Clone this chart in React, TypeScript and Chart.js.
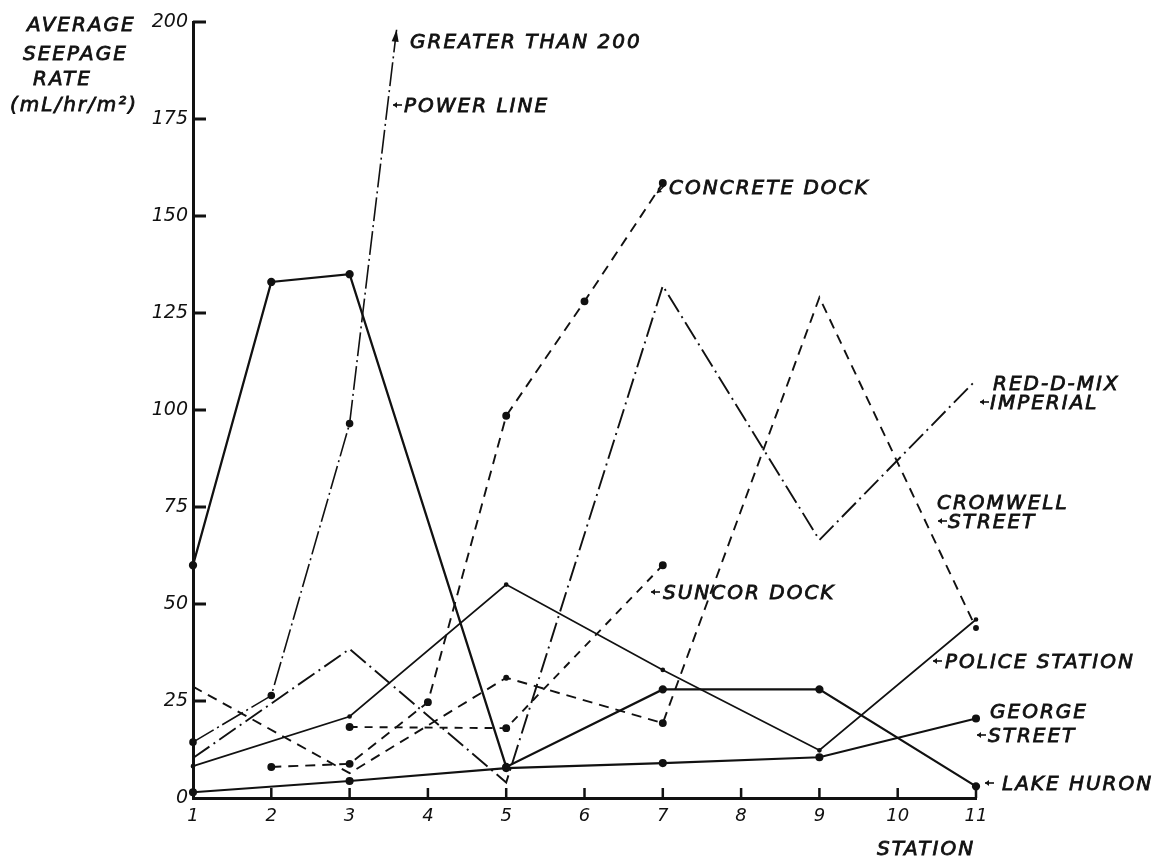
import React, { useEffect, useRef } from "react";
import { Chart, registerables } from "chart.js";

Chart.register(...registerables);

// ---- axis ticks ----
const stationTicks = [1, 2, 3, 4, 5, 6, 7, 8, 9, 10, 11];
const valueTicks = [0, 25, 50, 75, 100, 125, 150, 175, 200];

// ---- series (station, average seepage rate mL/hr/m²) ----
const lakeHuronStations = [1, 2, 3, 5, 7, 9, 11];
const lakeHuronValues = [60, 133, 135, 8, 28, 28, 3];

const policeStations = [1, 3, 5, 7, 9, 11];
const policeValues = [8.2, 21, 55, 33, 12.3, 46];

const georgeStations = [1, 3, 5, 7, 9, 11];
const georgeValues = [1.5, 4.4, 7.7, 9, 10.5, 20.5];

const powerLineStations = [1, 2, 3, 3.6];
const powerLineValues = [14.4, 26.4, 96.5, 198];

const redDMixStations = [1, 3, 5, 7, 9, 11];
const redDMixValues = [10.3, 38.4, 4, 132, 66.5, 107.7];

const concreteStations = [2, 3, 4, 5, 6, 7];
const concreteValues = [8, 8.8, 24.7, 98.5, 128, 158.5];

const cromwellStations = [1, 3, 5, 7, 9, 11];
const cromwellValues = [28.7, 6.4, 31, 19.3, 129, 43.8];

const suncorStations = [3, 5, 7];
const suncorValues = [18.3, 18, 60];

// ---- text annotations (page pixels) ----
const LABEL_FONT = 'italic 20px "DejaVu Sans"';
type Lbl = { t: string; x: number; y: number; arrow?: "left" | "downleft"; ax?: number };
const labels: Lbl[] = [
  { t: "AVERAGE", x: 27, y: 26 },
  { t: "SEEPAGE", x: 23, y: 55 },
  { t: "RATE", x: 33, y: 80 },
  { t: "(mL/hr/m²)", x: 10, y: 106 },
  { t: "GREATER THAN 200", x: 410, y: 43 },
  { t: "POWER LINE", x: 404, y: 107, arrow: "left", ax: 393 },
  { t: "CONCRETE DOCK", x: 669, y: 189, arrow: "downleft", ax: 657 },
  { t: "RED-D-MIX", x: 993, y: 385 },
  { t: "IMPERIAL", x: 990, y: 404, arrow: "left", ax: 980 },
  { t: "CROMWELL", x: 937, y: 504 },
  { t: "STREET", x: 948, y: 523, arrow: "left", ax: 938 },
  { t: "SUNCOR DOCK", x: 663, y: 594, arrow: "left", ax: 651 },
  { t: "POLICE STATION", x: 945, y: 663, arrow: "left", ax: 933 },
  { t: "GEORGE", x: 990, y: 713 },
  { t: "STREET", x: 988, y: 737, arrow: "left", ax: 977 },
  { t: "LAKE HURON", x: 1002, y: 785, arrow: "left", ax: 985 },
  { t: "STATION", x: 877, y: 850 },
];

const pts = (xs: number[], ys: number[]) => xs.map((x, i) => ({ x, y: ys[i] }));

const INK = "#111";

const drawPlugin = {
  id: "handDrawn",
  afterDraw(chart: any) {
    const { ctx, chartArea, scales } = chart;
    const xs = scales.x;
    const ys = scales.y;
    ctx.save();
    ctx.strokeStyle = INK;
    ctx.fillStyle = INK;
    ctx.setLineDash([]);
    // inward tick marks
    ctx.lineWidth = 3;
    valueTicks.forEach((v) => {
      if (v === 0) return;
      const y = ys.getPixelForValue(v);
      ctx.beginPath();
      ctx.moveTo(chartArea.left, y);
      ctx.lineTo(chartArea.left + 13, y);
      ctx.stroke();
    });
    ctx.lineWidth = 2.5;
    stationTicks.forEach((s) => {
      if (s === 1) return;
      const x = xs.getPixelForValue(s);
      ctx.beginPath();
      ctx.moveTo(x, chartArea.bottom);
      ctx.lineTo(x, chartArea.bottom - 10);
      ctx.stroke();
    });
    // arrowhead at end of power line
    const n = powerLineStations.length;
    const x1 = xs.getPixelForValue(powerLineStations[n - 2]);
    const y1 = ys.getPixelForValue(powerLineValues[n - 2]);
    const x2 = xs.getPixelForValue(powerLineStations[n - 1]);
    const y2 = ys.getPixelForValue(powerLineValues[n - 1]);
    const ang = Math.atan2(y2 - y1, x2 - x1);
    ctx.beginPath();
    ctx.moveTo(x2, y2);
    ctx.lineTo(x2 - 12 * Math.cos(ang) + 3.5 * Math.sin(ang), y2 - 12 * Math.sin(ang) - 3.5 * Math.cos(ang));
    ctx.lineTo(x2 - 12 * Math.cos(ang) - 3.5 * Math.sin(ang), y2 - 12 * Math.sin(ang) + 3.5 * Math.cos(ang));
    ctx.closePath();
    ctx.fill();
    // labels
    ctx.font = LABEL_FONT;
    (ctx as any).letterSpacing = "2px";
    ctx.textBaseline = "middle";
    ctx.textAlign = "left";
    labels.forEach((l) => {
      ctx.lineWidth = 0.8;
      ctx.fillText(l.t, l.x, l.y);
      ctx.strokeText(l.t, l.x, l.y);
      if (l.arrow && l.ax !== undefined) {
        ctx.lineWidth = 1.6;
        if (l.arrow === "left") {
          const ay = l.y - 2;
          ctx.beginPath();
          ctx.moveTo(l.ax + 9, ay);
          ctx.lineTo(l.ax, ay);
          ctx.stroke();
          ctx.beginPath();
          ctx.moveTo(l.ax, ay);
          ctx.lineTo(l.ax + 4, ay - 3);
          ctx.lineTo(l.ax + 4, ay + 3);
          ctx.closePath();
          ctx.fill();
        } else {
          const bx = l.ax, by = l.y + 4;
          ctx.beginPath();
          ctx.moveTo(bx + 8, by - 8);
          ctx.lineTo(bx, by);
          ctx.stroke();
          ctx.beginPath();
          ctx.moveTo(bx, by);
          ctx.lineTo(bx + 1, by - 5);
          ctx.lineTo(bx + 5, by - 1);
          ctx.closePath();
          ctx.fill();
        }
      }
    });
    ctx.restore();
  },
};

export default function App() {
  const ref = useRef<HTMLCanvasElement | null>(null);
  useEffect(() => {
    if (!ref.current) return;
    const common = { borderColor: INK, backgroundColor: INK, pointBackgroundColor: INK, pointBorderColor: INK, fill: false, tension: 0, clip: false as any };
    const chart = new Chart(ref.current, {
      type: "line",
      data: {
        datasets: [
          { ...common, label: "Lake Huron", data: pts(lakeHuronStations, lakeHuronValues), borderWidth: 2.3, pointRadius: 3 },
          { ...common, label: "Police Station", data: pts(policeStations, policeValues), borderWidth: 1.7, pointRadius: 1.5 },
          { ...common, label: "George Street", data: pts(georgeStations, georgeValues), borderWidth: 2.1, pointRadius: 3 },
          { ...common, label: "Power Line", data: pts(powerLineStations, powerLineValues), borderWidth: 1.6, borderDash: [24, 4, 2, 4], pointRadius: [3, 3, 3, 0] },
          { ...common, label: "Red-D-Mix Imperial", data: pts(redDMixStations, redDMixValues), borderWidth: 1.9, borderDash: [20, 5, 2, 5], pointRadius: 0 },
          { ...common, label: "Concrete Dock", data: pts(concreteStations, concreteValues), borderWidth: 1.9, borderDash: [10, 7], pointRadius: 3 },
          { ...common, label: "Cromwell Street", data: pts(cromwellStations, cromwellValues), borderWidth: 1.9, borderDash: [10, 7], pointRadius: [0, 0, 2, 3, 0, 2] },
          { ...common, label: "Suncor Dock", data: pts(suncorStations, suncorValues), borderWidth: 1.9, borderDash: [8, 7], pointRadius: 3 },
        ] as any,
      },
      options: {
        animation: false,
        responsive: true,
        maintainAspectRatio: false,
        layout: { padding: { top: 22, right: 185, left: 0, bottom: 0 } },
        plugins: { legend: { display: false }, tooltip: { enabled: false }, title: { display: false } },
        scales: {
          x: {
            type: "linear",
            min: 1,
            max: 11,
            afterFit: (s: any) => { s.height = 65; },
            afterBuildTicks: (s: any) => { s.ticks = stationTicks.map((v) => ({ value: v })); },
            grid: { display: false, drawTicks: false },
            border: { display: true, color: INK, width: 3 },
            ticks: { color: INK, padding: 8, font: { family: "DejaVu Sans", style: "italic", size: 18 } },
          },
          y: {
            type: "linear",
            min: 0,
            max: 200,
            afterFit: (s: any) => { s.width = 193; },
            afterBuildTicks: (s: any) => { s.ticks = valueTicks.map((v) => ({ value: v })); },
            grid: { display: false, drawTicks: false },
            border: { display: true, color: INK, width: 3 },
            ticks: { color: INK, padding: 5, font: { family: "DejaVu Sans", style: "italic", size: 19 } },
          },
        },
      } as any,
      plugins: [drawPlugin],
    });
    return () => chart.destroy();
  }, []);
  return (
    <div style={{ position: "fixed", left: 0, top: 0, width: 1161, height: 863, background: "#fff" }}>
      <canvas ref={ref} />
    </div>
  );
}
